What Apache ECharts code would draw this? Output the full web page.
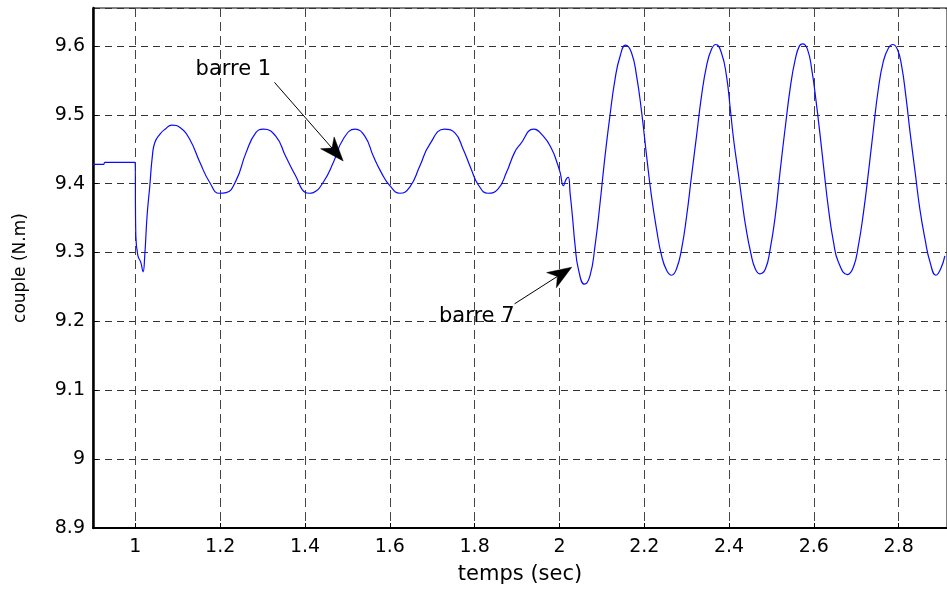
<!DOCTYPE html>
<html>
<head>
<meta charset="utf-8">
<script src="https://cdn.jsdelivr.net/npm/echarts@6/dist/echarts.min.js"></script>
<style>
  html, body { margin: 0; padding: 0; background: #fff; }
  #chart { width: 947px; height: 590px; }
</style>
</head>
<body>
<div id="chart"></div>
<script>
// Electromagnetic torque response: time (s) and torque (N.m)
const time = [
  0.900, 0.925, 0.928, 0.999, 1.001, 1.006, 1.0126, 1.018, 1.022, 1.0275,
  1.034, 1.040, 1.046, 1.058, 1.070, 1.086, 1.106, 1.128, 1.152, 1.175,
  1.198, 1.214, 1.237, 1.261, 1.284, 1.302, 1.331, 1.354, 1.378, 1.401,
  1.410, 1.4196, 1.443, 1.467, 1.490, 1.518, 1.541, 1.561, 1.580, 1.600,
  1.6235, 1.647, 1.671, 1.694, 1.729, 1.753, 1.773, 1.792, 1.808, 1.8315,
  1.855, 1.875, 1.894, 1.9075, 1.939, 1.962, 1.982, 1.994, 2.0017, 2.0094,
  2.016, 2.021, 2.025, 2.0306, 2.037, 2.0447, 2.059, 2.072, 2.084, 2.096,
  2.1075, 2.119, 2.131, 2.143, 2.156, 2.170, 2.182, 2.194, 2.2056, 2.217,
  2.229, 2.241, 2.253, 2.2645, 2.276, 2.288, 2.300, 2.3115, 2.3233, 2.335,
  2.347, 2.3586, 2.3687, 2.382, 2.394, 2.403, 2.411, 2.423, 2.431, 2.439,
  2.451, 2.462, 2.4723, 2.4857, 2.497, 2.509, 2.521, 2.533, 2.545, 2.556,
  2.566, 2.574, 2.585, 2.595, 2.6056, 2.615, 2.6245, 2.6346, 2.6464, 2.658,
  2.679, 2.6934, 2.705, 2.717, 2.7287, 2.7405, 2.752, 2.764, 2.776, 2.786,
  2.797, 2.807, 2.817, 2.827, 2.839, 2.850, 2.862, 2.874, 2.888, 2.899,
  2.909
];
const torque = [
  9.428, 9.428, 9.431, 9.431, 9.324, 9.295, 9.286, 9.272, 9.295, 9.353,
  9.397, 9.440, 9.460, 9.472, 9.479, 9.485, 9.481, 9.4645, 9.431, 9.402,
  9.386, 9.387, 9.404, 9.445, 9.474, 9.479, 9.469, 9.440, 9.411, 9.387,
  9.386, 9.387, 9.402, 9.431, 9.4645, 9.479, 9.469, 9.440, 9.416, 9.397,
  9.386, 9.395, 9.426, 9.457, 9.479, 9.474, 9.450, 9.421, 9.399, 9.386,
  9.392, 9.416, 9.445, 9.457, 9.479, 9.469, 9.450, 9.431, 9.416, 9.397,
  9.4065, 9.409, 9.387, 9.353, 9.310, 9.276, 9.254, 9.266, 9.310, 9.373,
  9.440, 9.498, 9.551, 9.585, 9.601, 9.590, 9.556, 9.503, 9.440, 9.382,
  9.334, 9.295, 9.274, 9.267, 9.276, 9.305, 9.353, 9.411, 9.469, 9.527,
  9.571, 9.595, 9.602, 9.590, 9.556, 9.508, 9.463, 9.410, 9.373, 9.339,
  9.300, 9.276, 9.269, 9.276, 9.305, 9.353, 9.421, 9.484, 9.542, 9.580,
  9.600, 9.603, 9.595, 9.566, 9.518, 9.469, 9.416, 9.363, 9.315, 9.286,
  9.268, 9.279, 9.310, 9.358, 9.416, 9.479, 9.537, 9.578, 9.597, 9.602,
  9.595, 9.571, 9.527, 9.474, 9.416, 9.363, 9.320, 9.286, 9.267, 9.276,
  9.295
];

// Axis ranges and tick steps
const xRange = [0.9, 2.914];
const xStep = 0.2;
const yRange = [8.9, 9.655];
const yStep = 0.1;

// Annotations (data coordinates)
const notes = [
  { text: 'barre 1', at: [1.231, 9.566] },
  { text: 'barre 7', at: [1.805, 9.2065] }
];
const arrows = [
  { from: [1.328, 9.547], to: [1.490, 9.433] },
  { from: [1.894, 9.2254], to: [2.029, 9.2786] }
];

const FONT = '"DejaVu Sans", "Liberation Sans", sans-serif';
const onStep = (v, step) => Math.abs(v / step - Math.round(v / step)) < 1e-6;

const chart = echarts.init(document.getElementById('chart'), null, { renderer: 'canvas' });

const option = {
  animation: false,
  backgroundColor: '#fff',
  grid: {
    left: 93, right: -2, top: 8, bottom: 61,
    show: true, borderColor: '#000', borderWidth: 1, backgroundColor: 'transparent'
  },
  xAxis: {
    type: 'value',
    min: xRange[0], max: xRange[1],
    splitNumber: 10, minInterval: xStep, maxInterval: xStep,
    name: 'temps (sec)',
    nameLocation: 'middle', nameGap: 36,
    nameTextStyle: { color: '#000', fontSize: 21, fontFamily: FONT },
    axisLine: { show: true, onZero: false, lineStyle: { color: '#000', width: 2 } },
    axisTick: { show: true, inside: true, length: 5, lineStyle: { color: '#000' } },
    axisLabel: {
      color: '#000', fontSize: 19, fontFamily: FONT, margin: 10,
      showMinLabel: false, showMaxLabel: false,
      formatter: v => onStep(v, xStep) ? String(+v.toFixed(1)) : ''
    },
    splitLine: { show: true, lineStyle: { color: '#444', width: 1, type: [9, 5] } }
  },
  yAxis: {
    type: 'value',
    min: yRange[0], max: yRange[1], interval: yStep,
    name: 'couple (N.m)',
    nameLocation: 'middle', nameGap: 64,
    nameTextStyle: { color: '#000', fontSize: 17, fontFamily: FONT },
    axisLine: { show: true, lineStyle: { color: '#000', width: 2.5 } },
    axisTick: { show: true, inside: true, length: 5, lineStyle: { color: '#000' } },
    axisLabel: {
      color: '#000', fontSize: 19, fontFamily: FONT, margin: 8,
      showMaxLabel: false,
      formatter: v => onStep(v, yStep) ? String(+v.toFixed(1)) : ''
    },
    splitLine: { show: true, lineStyle: { color: '#333', width: 1, type: [7, 5] } }
  },
  series: [{
    type: 'line',
    data: time.map((t, i) => [t, torque[i]]),
    showSymbol: false,
    smooth: 0.5,
    lineStyle: { color: '#0a0aff', width: 1.2 },
    z: 3
  }]
};

chart.setOption(option);

// Annotation text and arrows positioned through the grid's coordinate system
const px = p => chart.convertToPixel({ gridIndex: 0 }, p);
const graphics = [];
notes.forEach(n => {
  const p = px(n.at);
  graphics.push({
    type: 'text', x: p[0], y: p[1], z: 10,
    style: { text: n.text, fill: '#000', fontSize: 21, fontFamily: FONT, align: 'center', verticalAlign: 'middle' }
  });
});
arrows.forEach(a => {
  const s = px(a.from), e = px(a.to);
  const dx = e[0] - s[0], dy = e[1] - s[1];
  const len = Math.hypot(dx, dy);
  const ux = dx / len, uy = dy / len;      // along the shaft
  const nx = -uy, ny = ux;                  // normal
  const headLen = 24, halfW = 9, notch = 17;
  const base = [e[0] - ux * headLen, e[1] - uy * headLen];
  const w1 = [base[0] + nx * halfW, base[1] + ny * halfW];
  const w2 = [base[0] - nx * halfW, base[1] - ny * halfW];
  const nb = [e[0] - ux * notch, e[1] - uy * notch];
  graphics.push({
    type: 'line', z: 10,
    shape: { x1: s[0], y1: s[1], x2: nb[0], y2: nb[1] },
    style: { stroke: '#000', lineWidth: 1 }
  });
  graphics.push({
    type: 'polygon', z: 10,
    shape: { points: [e, w1, nb, w2] },
    style: { fill: '#000', stroke: '#000', lineWidth: 0.5 }
  });
});
chart.setOption({ graphic: graphics });
</script>
</body>
</html>
